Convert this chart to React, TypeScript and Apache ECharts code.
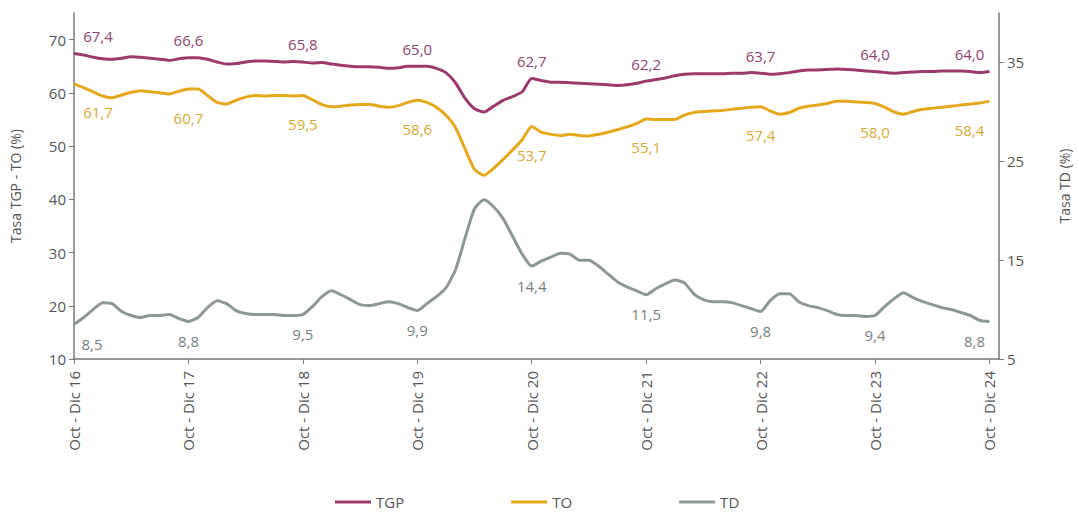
import React, { useEffect, useRef } from "react";
import * as echarts from "echarts";

const MONTHS = ["Ene", "Feb", "Mar", "Abr", "May", "Jun", "Jul", "Ago", "Sep", "Oct", "Nov", "Dic"];

// Rolling quarters: Oct - Dic 16 ... Oct - Dic 24 (97 periods)
const categories: string[] = [];
for (let i = 0; i < 97; i++) {
  const s = (9 + i) % 12;
  const e = (11 + i) % 12;
  const yy = 16 + Math.floor((11 + i) / 12);
  categories.push(`${MONTHS[s]} - ${MONTHS[e]} ${yy}`);
}
const xCats = [...categories, ""];

const tgp = [
  67.4, 67.1, 66.7, 66.4, 66.3, 66.5, 66.8, 66.7, 66.5, 66.3, 66.1, 66.4,
  66.6, 66.6, 66.3, 65.8, 65.4, 65.5, 65.8, 66.0, 66.0, 65.9, 65.8, 65.9,
  65.8, 65.6, 65.7, 65.4, 65.2, 65.0, 64.9, 64.9, 64.8, 64.6, 64.7, 65.0,
  65.0, 65.0, 64.6, 63.8, 61.9, 59.0, 57.0, 56.4, 57.5, 58.6, 59.3, 60.2,
  62.7, 62.3, 62.0, 62.0, 61.9, 61.8, 61.7, 61.6, 61.5, 61.4, 61.5, 61.8,
  62.2, 62.5, 62.8, 63.2, 63.5, 63.6, 63.6, 63.6, 63.6, 63.7, 63.7, 63.8,
  63.7, 63.5, 63.6, 63.8, 64.1, 64.3, 64.3, 64.4, 64.5, 64.4, 64.3, 64.1,
  64.0, 63.8, 63.7, 63.8, 63.9, 64.0, 64.0, 64.1, 64.1, 64.1, 64.0, 63.8,
  64.0,
];

const to = [
  61.7, 61.0, 60.2, 59.4, 59.1, 59.6, 60.1, 60.4, 60.2, 60.0, 59.8, 60.3,
  60.7, 60.7, 59.5, 58.2, 57.9, 58.6, 59.2, 59.5, 59.4, 59.5, 59.5, 59.4,
  59.5, 58.7, 57.8, 57.4, 57.5, 57.7, 57.8, 57.8, 57.5, 57.3, 57.6, 58.2,
  58.6, 58.2, 57.3, 55.8, 53.5, 49.5, 45.6, 44.5, 45.8, 47.5, 49.3, 51.2,
  53.7, 52.6, 52.2, 52.0, 52.2, 52.0, 51.9, 52.2, 52.6, 53.1, 53.6, 54.2,
  55.1, 55.0, 55.0, 55.0, 55.8, 56.3, 56.5, 56.6, 56.7, 56.9, 57.1, 57.3,
  57.4, 56.6, 56.0, 56.3, 57.1, 57.5, 57.7, 58.0, 58.4, 58.4, 58.3, 58.2,
  58.0, 57.3, 56.4, 56.0, 56.5, 56.9, 57.1, 57.3, 57.5, 57.7, 57.9, 58.1,
  58.4,
];

const td = [
  8.5, 9.2, 10.0, 10.7, 10.6, 9.8, 9.4, 9.2, 9.4, 9.4, 9.5, 9.1,
  8.8, 9.2, 10.2, 10.9, 10.6, 9.9, 9.6, 9.5, 9.5, 9.5, 9.4, 9.4,
  9.5, 10.3, 11.3, 11.9, 11.5, 11.0, 10.5, 10.4, 10.6, 10.8, 10.6, 10.2,
  9.9, 10.6, 11.3, 12.2, 14.0, 17.2, 20.2, 21.1, 20.4, 19.2, 17.4, 15.6,
  14.4, 14.9, 15.3, 15.7, 15.6, 15.0, 15.0, 14.4, 13.6, 12.8, 12.3, 11.9,
  11.5, 12.1, 12.6, 13.0, 12.7, 11.6, 11.0, 10.8, 10.8, 10.7, 10.4, 10.1,
  9.8, 10.9, 11.6, 11.6, 10.8, 10.4, 10.2, 9.9, 9.5, 9.4, 9.4, 9.3,
  9.4, 10.3, 11.1, 11.7, 11.2, 10.8, 10.5, 10.2, 10.0, 9.7, 9.4, 8.9,
  8.8,
];

const leftTicks = [10, 20, 30, 40, 50, 60, 70];
const rightTicks = [5, 15, 25, 35];

const C_TGP = "#9C3A6E";
const C_TO = "#E5A81C";
const C_TD = "#8E9893";
const FONT = "Open Sans";

function withLabels(values: number[], firstDx: number, lastDx: number) {
  return values.map((v, i) => {
    if (i % 12 !== 0) return v;
    const dx = i === 0 ? firstDx : i === values.length - 1 ? lastDx : 0;
    return { value: v, label: { show: true, offset: [dx, 0] } };
  });
}

const fmt = (p: any) => Number(p.value).toFixed(1).replace(".", ",");

export default function App() {
  const ref = useRef<HTMLDivElement>(null);
  useEffect(() => {
    if (!ref.current) return;
    const chart = echarts.init(ref.current, undefined, { renderer: "svg" });
    const axisText = { color: "#555", fontSize: 15, fontFamily: FONT };
    chart.setOption({
      animation: false,
      backgroundColor: "#fff",
      textStyle: { fontFamily: FONT },
      grid: { left: 73, right: 71, top: 13, bottom: 156, containLabel: false },
      legend: {
        data: ["TGP", "TO", "TD"],
        left: 330,
        top: 488,
        icon: "rect",
        itemWidth: 36,
        itemHeight: 3,
        itemGap: 107,
        textStyle: { color: "#555", fontSize: 15, fontFamily: FONT, lineHeight: 18 },
      },
      xAxis: {
        type: "category",
        data: xCats,
        boundaryGap: false,
        axisLine: { lineStyle: { color: "#777", width: 1.5 } },
        axisTick: {
          show: true,
          length: 5,
          interval: (i: number) => i % 12 === 0,
          lineStyle: { color: "#777" },
        },
        axisLabel: {
          ...axisText,
          rotate: 90,
          margin: 12,
          interval: (i: number) => i % 12 === 0,
        },
        splitLine: { show: false },
      },
      yAxis: [
        {
          type: "value",
          min: 10,
          max: 75,
          name: "Tasa TGP - TO (%)",
          nameLocation: "middle",
          nameRotate: 90,
          nameGap: 52,
          nameTextStyle: { color: "#555", fontSize: 14, fontFamily: FONT },
          axisLine: { show: true, lineStyle: { color: "#777", width: 1.5 } },
          axisTick: { show: true, length: 5, customValues: leftTicks, lineStyle: { color: "#777" } },
          axisLabel: { ...axisText, margin: 8, customValues: leftTicks },
          splitLine: { show: false },
        },
        {
          type: "value",
          min: 5,
          max: 40,
          position: "right",
          name: "Tasa TD (%)",
          nameLocation: "middle",
          nameRotate: 90,
          nameGap: 58,
          nameTextStyle: { color: "#555", fontSize: 14, fontFamily: FONT },
          axisLine: { show: true, lineStyle: { color: "#777", width: 1.5 } },
          axisTick: { show: true, length: 5, customValues: rightTicks, lineStyle: { color: "#777" } },
          axisLabel: { ...axisText, margin: 8, customValues: rightTicks },
          splitLine: { show: false },
        },
      ],
      series: [
        {
          name: "TGP",
          type: "line",
          yAxisIndex: 0,
          data: withLabels(tgp, 24, -20),
          smooth: 0.2,
          symbol: "circle",
          symbolSize: 0,
          showSymbol: true,
          showAllSymbol: true,
          lineStyle: { color: C_TGP, width: 3 },
          itemStyle: { color: C_TGP },
          label: {
            show: false,
            position: "top",
            distance: 10,
            color: "#8E4570",
            fontSize: 15,
            fontFamily: FONT,
            formatter: fmt,
          },
          emphasis: { disabled: true },
        },
        {
          name: "TO",
          type: "line",
          yAxisIndex: 0,
          data: withLabels(to, 24, -20),
          smooth: 0.2,
          symbol: "circle",
          symbolSize: 0,
          showSymbol: true,
          showAllSymbol: true,
          lineStyle: { color: C_TO, width: 3 },
          itemStyle: { color: C_TO },
          label: {
            show: false,
            position: "bottom",
            distance: 21,
            color: "#D6A935",
            fontSize: 15,
            fontFamily: FONT,
            formatter: fmt,
          },
          emphasis: { disabled: true },
        },
        {
          name: "TD",
          type: "line",
          yAxisIndex: 1,
          data: withLabels(td, 18, -15),
          smooth: 0.2,
          symbol: "circle",
          symbolSize: 0,
          showSymbol: true,
          showAllSymbol: true,
          lineStyle: { color: C_TD, width: 3 },
          itemStyle: { color: C_TD },
          label: {
            show: false,
            position: "bottom",
            distance: 12,
            color: "#7A7F7C",
            fontSize: 15,
            fontFamily: FONT,
            formatter: fmt,
          },
          emphasis: { disabled: true },
        },
      ],
    });
    return () => chart.dispose();
  }, []);
  return (
    <div
      ref={ref}
      style={{ position: "fixed", left: 0, top: 0, width: 1079, height: 515 }}
    />
  );
}
